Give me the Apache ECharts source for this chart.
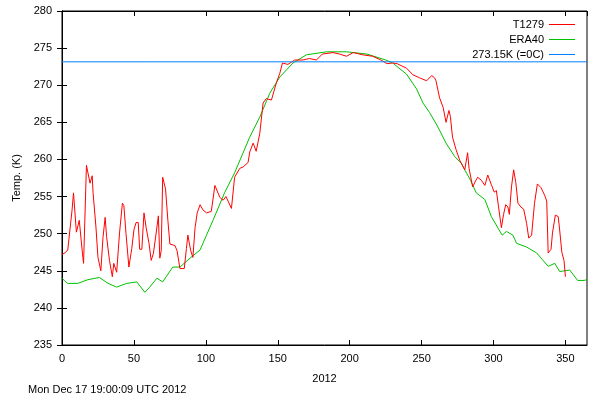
<!DOCTYPE html>
<html><head><meta charset="utf-8">
<script src="https://cdn.jsdelivr.net/npm/echarts@6/dist/echarts.min.js"></script>
<style>html,body{margin:0;padding:0;background:#fff}#c{width:600px;height:400px}</style>
</head><body><div id="c"></div>
<script>
const redDays=[0,2,4,7,8,10,12,14.5,15,17,19.5,21,21.6,23.6,25,27,28.5,30,31,33,35,36,38,40,42,43,44.5,46.5,48.5,50,51.5,53,54,55.5,57,58.5,60.5,62,63.5,65,67,68,69,70,72,73.6,75,78.5,80,82,85,86.5,87.5,89.5,91,92.5,94,96,98,100.5,103.8,106.3,109.7,112,114,117.8,120,123.6,126,129.4,130.5,132.9,135,137.5,139.8,142,145.6,149,151.4,153.3,157,161.8,167.5,172,176.9,181,188.4,193,197.8,202.5,209,216,221.7,226,230,233,239.5,244,248.6,253.5,257,259,260,262.5,265,267,269,270,271.5,274,276.5,280,282,283,285.5,287.5,289,291.5,294,296,298.5,300.5,302,303.5,305.5,307,308.5,310,311,312.5,314,315.5,317,319,321,323,324.5,326.5,328.5,330.5,333,335.5,337,338,340,341,343,345,346,347.5,349,350];
const redTemps=[247.2,247.4,247.8,253.2,255.5,250.2,251.8,246.8,246,259.2,256.8,257.8,255.5,250.9,246.8,245,249.5,252.2,249.6,246.4,244.2,246,244.8,250.1,254.1,253.8,250,245.5,248,250.5,251.5,251.5,247.9,247.9,252.8,250.8,248.7,246.4,247.3,249.4,252.4,246.7,247.7,257.6,256,251.8,248.6,248.4,247.7,245.3,245.3,248,249.8,247.7,246.8,250.8,252.8,253.9,253.2,252.8,253,256.5,254.9,254.5,255,253.4,257.6,258.8,259,259.6,261,262.2,261.1,263.5,267.6,268.2,268,270.3,271.6,273,272.8,273.4,273.4,273.6,273.4,274.2,274.4,274.2,273.9,274.4,274.1,273.9,273.4,272.9,273,272.9,272.3,271.4,271,270.6,271.3,271,270.6,268.3,267,265,266.6,265.8,263,261.3,259.9,258.6,260.9,258.8,256.3,257.1,257.6,257.2,256.5,257.9,256.6,255.6,255.8,253.6,250.8,252.6,253.9,253.6,252.6,256.3,258.6,256.9,254.1,253.6,253.3,251.4,249.4,249.8,254.1,256.7,256.2,255.2,254.4,247.4,247.9,250.1,252.5,252.3,250.5,247.5,246.4,244.2];
const greenDays=[0,2,4,11,18,26,32,38,45,52,57.6,61,66,70,77,82,89,96,100,105,113,120,130.5,137.5,144.4,151.4,160.6,170,184,198,212,225,230,233,239.5,246.5,251,255.6,261,267,273,277.5,284,288,294,298.5,306,309,313.5,316,323,330,334,338,342.6,346,353,358.5,363,365];
const greenTemps=[244,243.6,243.3,243.3,243.8,244.1,243.3,242.8,243.3,243.5,242.1,242.8,244,243.5,245.5,245.5,246.7,247.8,249.6,251.8,255.5,258.2,263,265.7,268.9,271.1,273,274.1,274.5,274.5,274.2,273.4,273,272.5,271.5,269.5,267.6,266.3,264.5,262.2,260.4,259.5,257.2,255.5,254.6,252.3,249.8,250.3,249.8,248.7,248.2,247.4,246.5,245.6,246,244.9,245.1,243.7,243.7,243.8];
const zeroC=273.15;
const yRange=[235,280];
const pair=(d,t)=>d.map((v,i)=>[v,t[i]]);
const F='Liberation Sans, DejaVu Sans, sans-serif';
const chart=echarts.init(document.getElementById('c'));
const axLine={lineStyle:{color:'#000'}};
chart.setOption({
 animation:false,
 grid:{left:62,right:13,top:11,bottom:55,show:true,borderColor:'#000',borderWidth:1},
 xAxis:[{type:'value',min:0,max:365,interval:50,axisLine:axLine,axisTick:{inside:true,length:5,lineStyle:{color:'#000'}},
   axisLabel:{color:'#000',fontFamily:F,fontSize:11,showMaxLabel:false,margin:8},splitLine:{show:false},
   name:'2012',nameLocation:'middle',nameGap:28,nameTextStyle:{color:'#000',fontFamily:F,fontSize:11}},
  {type:'value',position:'top',min:0,max:365,interval:50,axisLine:axLine,axisTick:{inside:true,length:5,lineStyle:{color:'#000'}},axisLabel:{show:false},splitLine:{show:false}}],
 yAxis:[{type:'value',min:yRange[0],max:yRange[1],interval:5,axisLine:axLine,axisTick:{inside:true,length:5,lineStyle:{color:'#000'}},
   axisLabel:{color:'#000',fontFamily:F,fontSize:11,margin:10},splitLine:{show:false},
   name:'Temp. (K)',nameLocation:'middle',nameGap:36,nameTextStyle:{color:'#000',fontFamily:F,fontSize:11}},
  {type:'value',position:'right',min:yRange[0],max:yRange[1],interval:5,axisLine:axLine,axisTick:{inside:true,length:5,lineStyle:{color:'#000'}},axisLabel:{show:false},splitLine:{show:false}}],
 legend:{orient:'vertical',right:20,top:14,align:'right',itemGap:4,itemWidth:26,itemHeight:10,icon:'path://M0,5L26,5L26,6L0,6Z',
   textStyle:{color:'#000',fontFamily:F,fontSize:11},data:['T1279','ERA40','273.15K (=0C)']},
 graphic:[{type:'text',left:28,top:384,style:{text:'Mon Dec 17 19:00:09 UTC 2012',fill:'#000',font:'11px '+F}}],
 series:[
  {name:'ERA40',type:'line',data:pair(greenDays,greenTemps),showSymbol:false,lineStyle:{color:'#00c000',width:1},itemStyle:{color:'#00c000'},z:2},
  {name:'T1279',type:'line',data:pair(redDays,redTemps),showSymbol:false,lineStyle:{color:'#ff0000',width:1},itemStyle:{color:'#ff0000'},z:3},
  {name:'273.15K (=0C)',type:'line',data:[[0,zeroC],[365,zeroC]],showSymbol:false,lineStyle:{color:'#0080ff',width:1},itemStyle:{color:'#0080ff'},z:4}
 ]
});
</script></body></html>
